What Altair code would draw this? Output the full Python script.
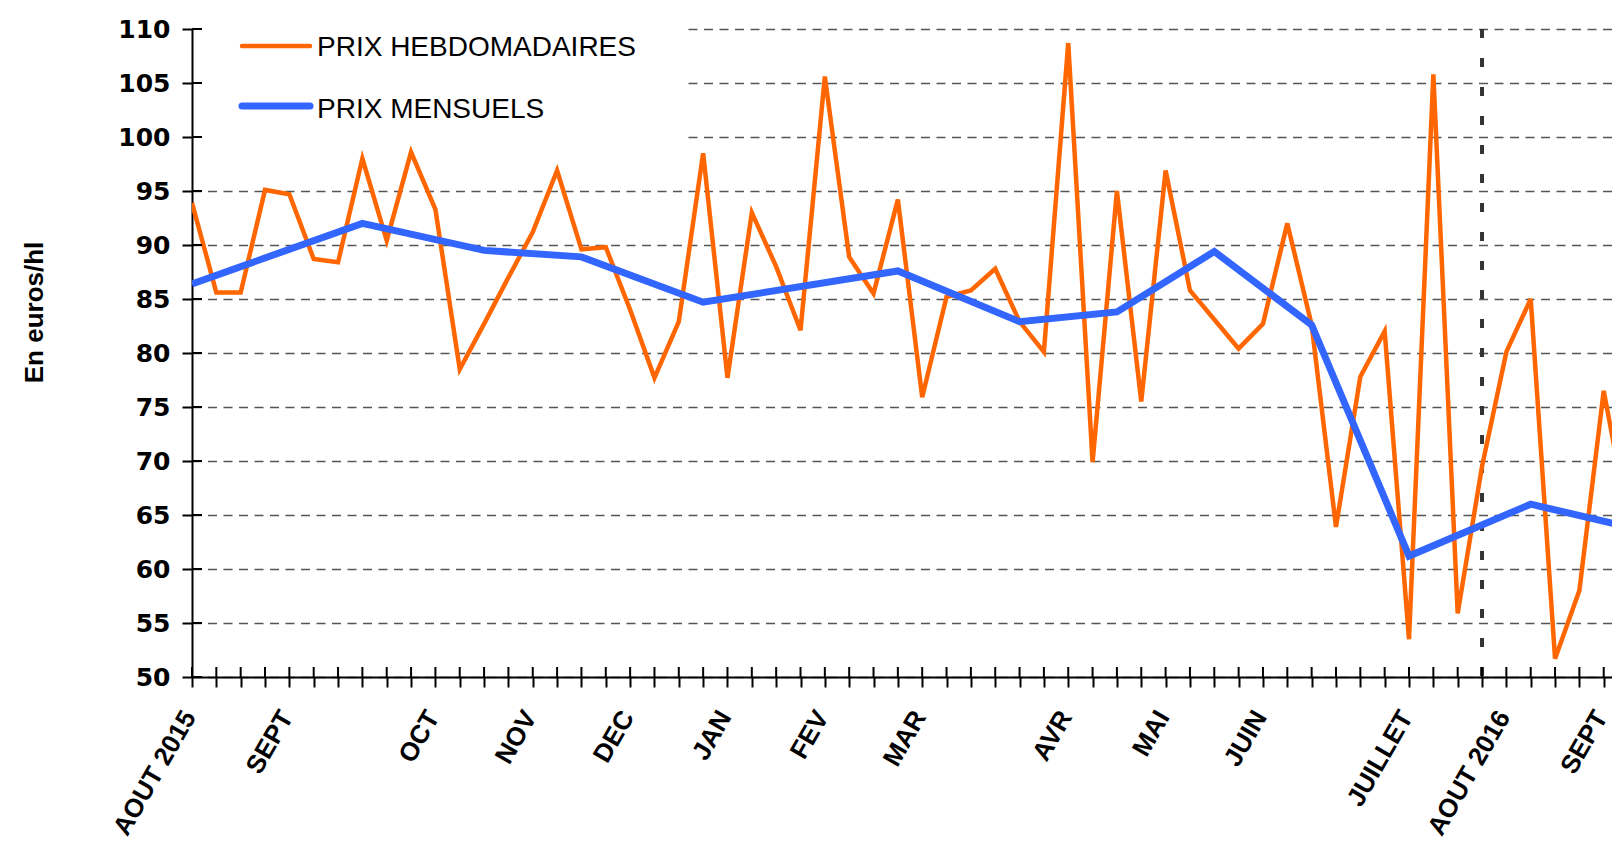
import altair as alt
import pandas as pd

# ---------------- data ----------------
weeks = list(range(60))
weekly_prices = [93.9, 85.6, 85.6, 95.1, 94.7, 88.7, 88.4, 98.0, 90.4, 98.6,
                 93.3, 78.5, 82.7, 87.0, 91.2, 96.9, 89.6, 89.8, 84.0, 77.7,
                 82.9, 98.5, 77.7, 93.0, 88.0, 82.1, 105.6, 88.9, 85.5, 94.2,
                 75.9, 85.2, 85.8, 87.8, 82.9, 80.1, 108.7, 69.9, 95.0, 75.5,
                 96.9, 85.8, 83.1, 80.4, 82.7, 92.0, 82.6, 63.9, 77.8, 82.0,
                 53.5, 105.8, 55.9, 69.5, 80.1, 85.0, 51.7, 58.0, 76.5, 64.5]

month_weeks = [0, 7, 12, 16, 21, 29, 34, 38, 42, 46, 50, 55, 59]
monthly_prices = [86.4, 92.0, 89.5, 88.9, 84.7, 87.6, 82.9, 83.8, 89.4, 82.6, 61.2, 66.0, 63.9]

label_weeks = [0, 4, 10, 14, 18, 22, 26, 30, 36, 40, 44, 50, 54, 58]
label_names = ["AOUT 2015", "SEPT", "OCT", "NOV", "DEC", "JAN", "FEV", "MAR",
               "AVR", "MAI", "JUIN", "JUILLET", "AOUT 2016", "SEPT"]

tick_weeks = list(range(0, 59))
y_ticks = list(range(50, 111, 5))
marker_week = [53]
legend_names = ["PRIX HEBDOMADAIRES", "PRIX MENSUELS"]
y_title = "En euros/hl"

# ---------------- layout ----------------
W, H = 1420, 648
X_MAX = 58.34
ORANGE = "#FF6600"
BLUE = "#3366FF"

expr = "''"
for wk, nm in reversed(list(zip(label_weeks, label_names))):
    expr = f"datum.value == {wk} ? '{nm}' : ({expr})"

x_scale = alt.Scale(domain=[0, X_MAX], nice=False, zero=False)
y_scale = alt.Scale(domain=[50, 110], nice=False, zero=False)

x_axis = alt.Axis(values=tick_weeks, labelExpr=expr, labelAngle=-60,
                  labelAlign="right", labelBaseline="top",
                  labelFont="Liberation Sans", labelFontWeight="bold",
                  labelFontSize=26, labelColor="black", labelPadding=19,
                  labelOffset=-14,
                  labelOverlap=False, labelFlush=False,
                  tickSize=10, tickWidth=2, tickColor="black",
                  domainColor="black", domainWidth=2, grid=False, title=None)

y_axis = alt.Axis(values=y_ticks, grid=True, gridDash=[9, 6.5], gridColor="#555555",
                  gridWidth=1.5, labelFont="DejaVu Sans", labelFontWeight="bold",
                  labelFontSize=25, labelColor="black", labelPadding=12,
                  tickSize=10, tickWidth=2, tickColor="black",
                  domainColor="black", domainWidth=2,
                  title=y_title, titleFont="Liberation Sans",
                  titleFontWeight="bold",
                  titleFontSize=26, titleColor="black", titleAngle=-90,
                  titleX=-158, titleY=283, titleAlign="center", titleBaseline="middle")

X = alt.X("week:Q", scale=x_scale, axis=x_axis)
Y = alt.Y("price:Q", scale=y_scale, axis=y_axis)

weekly_df = pd.DataFrame({"week": weeks, "price": weekly_prices})
monthly_df = pd.DataFrame({"week": month_weeks, "price": monthly_prices})
tickx_df = pd.DataFrame({"week": tick_weeks})
ticky_df = pd.DataFrame({"price": y_ticks})
marker_df = pd.DataFrame({"week": marker_week})
one = pd.DataFrame({"a": [0]})

base_orange = alt.Chart(weekly_df).mark_line(color=ORANGE, strokeWidth=4.5, clip=True).encode(x=X, y=Y)

cover = alt.Chart(one).mark_rect(color="white").encode(
    x=alt.value(2), x2=alt.value(490), y=alt.value(-3), y2=alt.value(117))

marker = alt.Chart(marker_df).mark_rule(color="#333333", strokeWidth=4,
                                        strokeDash=[9, 20]).encode(x=X)

blue = alt.Chart(monthly_df).mark_line(color=BLUE, strokeWidth=7, clip=True).encode(x=X, y=Y)

xticks_in = alt.Chart(tickx_df).mark_rule(color="black", strokeWidth=2).encode(
    x=X, y=alt.value(H - 10), y2=alt.value(H))
yticks_in = alt.Chart(ticky_df).mark_rule(color="black", strokeWidth=2).encode(
    y=Y, x=alt.value(0), x2=alt.value(10))

leg1_line = alt.Chart(one).mark_rule(color=ORANGE, strokeWidth=4.5, strokeCap="round").encode(
    x=alt.value(50), x2=alt.value(118), y=alt.value(17))
leg2_line = alt.Chart(one).mark_rule(color=BLUE, strokeWidth=7, strokeCap="round").encode(
    x=alt.value(50), x2=alt.value(118), y=alt.value(77))
leg1_text = alt.Chart(one).mark_text(align="left", baseline="alphabetic",
                                     font="Liberation Sans", fontSize=28, color="black").encode(
    x=alt.value(125), y=alt.value(26.5), text=alt.value(legend_names[0]))
leg2_text = alt.Chart(one).mark_text(align="left", baseline="alphabetic",
                                     font="Liberation Sans", fontSize=28, color="black").encode(
    x=alt.value(125), y=alt.value(88.5), text=alt.value(legend_names[1]))

chart = alt.layer(
    base_orange.transform_filter("false"),
    cover, marker, base_orange, blue, xticks_in, yticks_in,
    leg1_line, leg2_line, leg1_text, leg2_text
).properties(
    width=W, height=H,
    autosize=alt.AutoSizeParams(type="none"),
    padding={"left": 184, "top": 21, "right": 0, "bottom": 162},
    background="white",
).configure_view(stroke=None)

chart.save("out.html", embed_options={"renderer": "svg", "actions": False})
